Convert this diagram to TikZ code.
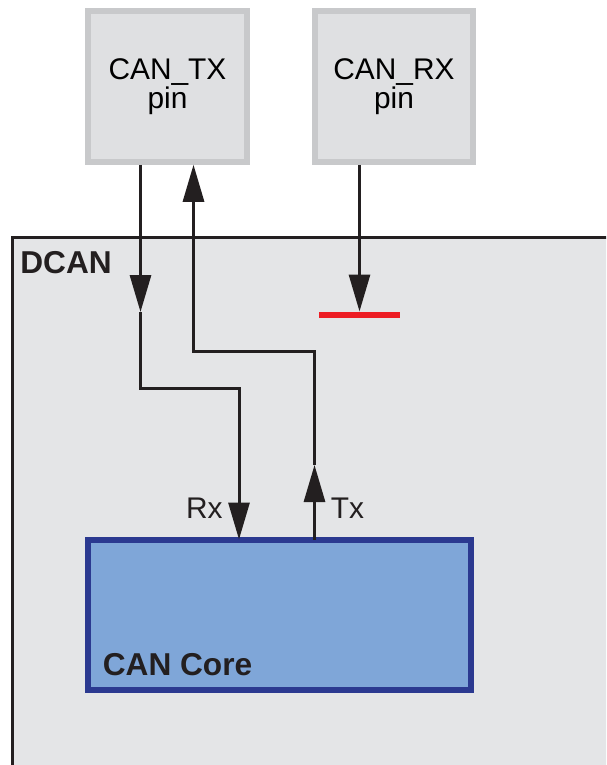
\documentclass[tikz,border=0pt]{standalone}
\usepackage{fontspec}
\setmainfont{Liberation Sans}
\usepackage{tikz}
\usetikzlibrary{arrows.meta,positioning,calc}
\usepackage{xcolor}
\definecolor{pinfill}{RGB}{223,224,226}
\definecolor{pinedge}{RGB}{200,201,203}
\definecolor{dcanfill}{RGB}{228,229,231}
\definecolor{wirecol}{RGB}{35,31,32}
\definecolor{corefill}{RGB}{127,166,216}
\definecolor{coreedge}{RGB}{43,57,144}
\definecolor{stubred}{RGB}{237,28,36}
\tikzset{
  pinbox/.style={rectangle,draw=pinedge,fill=pinfill,line width=1.2mm,minimum width=31.7mm,minimum height=30.1mm,align=center,font=\fontsize{17}{15.2}\selectfont},
  corebox/.style={rectangle,draw=coreedge,fill=corefill,line width=1.2mm,minimum width=76.6mm,minimum height=30.1mm,outer sep=0pt},
  stubbar/.style={rectangle,fill=stubred,minimum width=16.2mm,minimum height=1.2mm,inner sep=0pt,outer sep=0pt},
  wire/.style={draw=wirecol,line width=0.6mm},
  sig/.style={wire,-{Triangle[length=7.4mm,width=4.2mm]}},
  lbl/.style={inner sep=0pt,text=wirecol,font=\fontsize{17}{17}\selectfont},
  title/.style={inner sep=0pt,text=wirecol,anchor=base west,font=\bfseries\fontsize{18}{18}\selectfont},
}
\begin{document}
\begin{tikzpicture}
  \clip (0,0) rectangle (12.12,-15.3);
  \fill[dcanfill] (0.25,-4.75) rectangle (12.5,-15.6);
  \draw[wire] (12.5,-4.75) -| (0.25,-15.6);
  \node[title] (dcanlbl) at (0.40,-5.46) {DCAN};

  \node[pinbox] (txpin) at (3.35,-1.73) {CAN\_TX\\pin};
  \node[pinbox] (rxpin) at (7.88,-1.73) {CAN\_RX\\pin};
  \node[corebox] (core) at (5.59,-12.295) {};
  \node[title] (corelbl) at ([shift={(0.29,0.30)}]core.south west) {CAN Core};
  \node[stubbar] (stub) at (7.19,-6.29) {};

  \coordinate (rxa) at (2.81,-6.24);
  \coordinate (rxb) at (4.78,-7.76);
  \coordinate (txa) at (6.29,-9.30);
  \coordinate (txb) at (3.87,-7.03);

  \draw[sig] (txpin.south -| rxa) -- (rxa);
  \draw[sig] (rxa) |- (rxb) -- (rxb |- core.north);
  \draw[sig] (txa |- core.north) -- (txa);
  \draw[sig] (txa) |- (txb) -- (txb |- txpin.south);
  \draw[sig] (stub.north |- rxpin.south) -- (stub.north);

  \node[lbl,anchor=base east] (rxlbl) at ([xshift=-3.2mm,yshift=4.3mm]rxb |- core.north) {Rx};
  \node[lbl,anchor=base west] (txlbl) at ([xshift=3.2mm,yshift=4.3mm]txa |- core.north) {Tx};
\end{tikzpicture}
\end{document}
